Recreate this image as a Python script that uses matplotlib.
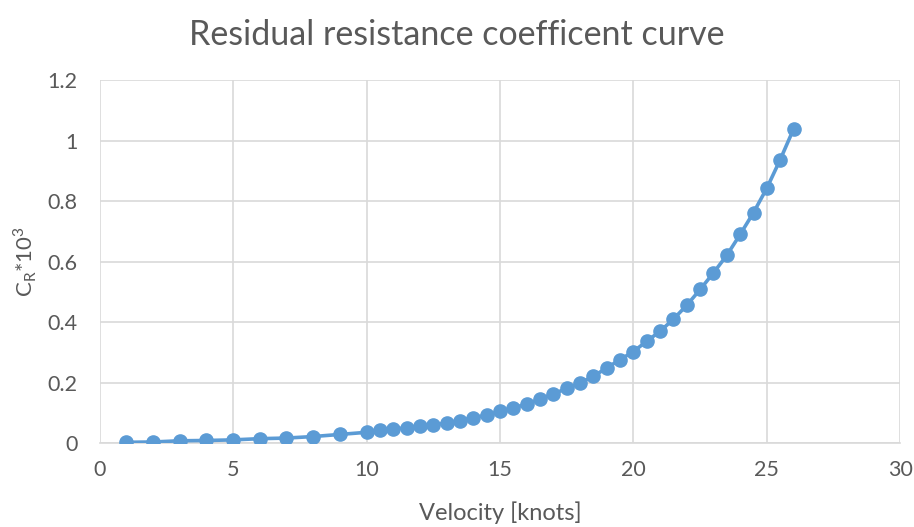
import matplotlib.pyplot as plt

# data
velocity = [1, 2, 3, 4, 5, 6, 7, 8, 9,
            10, 10.5, 11, 11.5, 12, 12.5, 13, 13.5, 14, 14.5,
            15, 15.5, 16, 16.5, 17, 17.5, 18, 18.5, 19, 19.5,
            20, 20.5, 21, 21.5, 22, 22.5, 23, 23.5, 24, 24.5,
            25, 25.5, 26]
cr = [0.003, 0.004, 0.008, 0.009, 0.011, 0.015, 0.017, 0.022, 0.029,
      0.036, 0.042, 0.047, 0.051, 0.056, 0.061, 0.067, 0.075, 0.084, 0.093,
      0.105, 0.117, 0.129, 0.146, 0.163, 0.181, 0.199, 0.221, 0.249, 0.276,
      0.303, 0.337, 0.370, 0.410, 0.456, 0.508, 0.563, 0.621, 0.690, 0.762,
      0.843, 0.937, 1.038]

xticks = [0, 5, 10, 15, 20, 25, 30]
yticks = [0, 0.2, 0.4, 0.6, 0.8, 1.0, 1.2]
ytick_labels = ["0", "0.2", "0.4", "0.6", "0.8", "1", "1.2"]

BLUE = "#5B9BD5"
TXT = "#595959"
GRID = "#D9D9D9"

plt.rcParams["font.family"] = ["Lato", "DejaVu Sans"]

fig = plt.figure(figsize=(9.14, 5.27), dpi=100)
ax = fig.add_axes([0.109, 0.159, 0.876, 0.689])

ax.plot(velocity, cr, color=BLUE, lw=2.6, marker="o", ms=9.5, zorder=3)

ax.set_xlim(0, 30)
ax.set_ylim(0, 1.2)
ax.set_xticks(xticks)
ax.set_yticks(yticks)
ax.set_yticklabels(ytick_labels)
ax.grid(True, color=GRID, lw=1.2)
ax.set_axisbelow(True)
for s in ["top", "right", "left"]:
    ax.spines[s].set_visible(False)
ax.spines["bottom"].set_color(GRID)
ax.spines["bottom"].set_linewidth(1.2)
ax.tick_params(length=0, colors=TXT, labelsize=15.5)
ax.tick_params(axis="x", pad=12)
ax.tick_params(axis="y", pad=16)

ax.set_xlabel("Velocity [knots]", color=TXT, fontsize=17)
ax.xaxis.set_label_coords(0.5, -0.16)
ax.set_ylabel(r"C$_\mathregular{R}$*10$^\mathregular{3}$", color=TXT, fontsize=16, labelpad=6)

fig.text(0.5, 0.934, "Residual resistance coefficent curve",
         ha="center", va="center", color=TXT, fontsize=24.5)

fig.savefig("out.png", dpi=100, facecolor="white")
